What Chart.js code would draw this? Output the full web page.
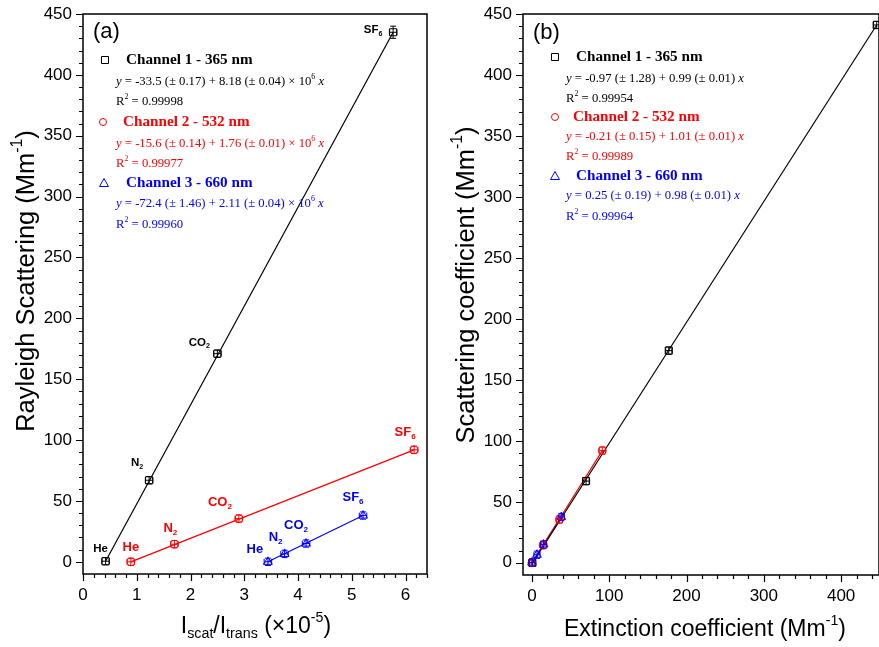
<!DOCTYPE html>
<html><head><meta charset="utf-8">
<script src="https://cdn.jsdelivr.net/npm/chart.js@4"></script>
<style>
body{margin:0;background:#fff;width:879px;height:647px;overflow:hidden;position:relative}
canvas{position:absolute;top:0}
#ca{left:0}#cb{left:440px}
</style></head><body>
<canvas id="ca" width="440" height="647"></canvas>
<canvas id="cb" width="445" height="647"></canvas>
<script>
// ---------------- Panel (a) data ----------------
const gasNames = ['He', 'N_{2}', 'CO_{2}', 'SF_{6}'];
const ch1RatioA = [0.42, 1.23, 2.50, 5.77];
const ch1ScatA  = [0.5, 67, 171, 435];
const ch2RatioA = [0.89, 1.70, 2.90, 6.16];
const ch2ScatA  = [0, 14.5, 35.5, 92];
const ch3RatioA = [3.44, 3.75, 4.15, 5.21];
const ch3ScatA  = [0, 6.5, 15, 38];
const ch1ErrYA = [3, 3, 3, 5];
const ch2ErrYA = [3, 3, 3, 3];
const ch3ErrYA = [3, 3, 3, 3];
const errXA = [0.07, 0.07, 0.07, 0.07];
const fit1XA = [0.42, 5.77], fit1YA = [0.5, 435];
const fit2XA = [0.89, 6.16], fit2YA = [0, 92];
const fit3XA = [3.44, 5.21], fit3YA = [0, 38];
const xTicksA = [0, 1, 2, 3, 4, 5, 6];
const yTicksA = [0, 50, 100, 150, 200, 250, 300, 350, 400, 450];

// ---------------- Panel (b) data ----------------
const ch1ExtB  = [0.5, 70, 177, 446];
const ch1ScatB = [0, 67, 174, 441];
const ch2ExtB  = [0, 14.5, 35.5, 91];
const ch2ScatB = [0, 14.5, 35.5, 92];
const ch3ExtB  = [0, 6.5, 15, 38];
const ch3ScatB = [0.2, 6.6, 15, 37.5];
const errXB = [4, 4, 4, 4];
const errYB = [3, 3, 3, 3];
const fit1XB = [0, 446], fit1YB = [-1, 441];
const fit2XB = [0, 91],  fit2YB = [0, 92];
const fit3XB = [0, 38],  fit3YB = [0.2, 37.5];
const xTicksB = [0, 100, 200, 300, 400];
const yTicksB = [0, 50, 100, 150, 200, 250, 300, 350, 400, 450];

const legendA = [
  ['Channel 1 - 365 nm', '*y* = -33.5 (± 0.17) + 8.18 (± 0.04) × 10^{6} *x*', 'R^{2} = 0.99998'],
  ['Channel 2 - 532 nm', '*y* = -15.6 (± 0.14) + 1.76 (± 0.01) × 10^{6} *x*', 'R^{2} = 0.99977'],
  ['Channel 3 - 660 nm', '*y* = -72.4 (± 1.46) + 2.11 (± 0.04) × 10^{6} *x*', 'R^{2} = 0.99960']
];
const legendB = [
  ['Channel 1 - 365 nm', '*y* = -0.97 (± 1.28) + 0.99 (± 0.01) *x*', 'R^{2} = 0.99954'],
  ['Channel 2 - 532 nm', '*y* = -0.21 (± 0.15) + 1.01 (± 0.01) *x*', 'R^{2} = 0.99989'],
  ['Channel 3 - 660 nm', '*y* = 0.25 (± 0.19) + 0.98 (± 0.01) *x*', 'R^{2} = 0.99964']
];

const COLORS = ['#000000', '#ff0000', '#0000ff'];
const STYLES = ['rect', 'circle', 'triangle'];
const RADII = [5, 4, 5];
const SANS = '"Liberation Sans", Arial, sans-serif';
const SERIF = '"Liberation Serif", "Times New Roman", serif';

// ---------- rich text helpers ----------
function parseRich(str){
  const segs=[]; let i=0, cur='', it=false;
  while(i<str.length){
    const c=str[i];
    if((c==='_'||c==='^') && str[i+1]==='{'){
      if(cur) segs.push({t:cur,it}); cur='';
      const j=str.indexOf('}',i);
      segs.push({t:str.slice(i+2,j), mode:c==='_'?'sub':'sup', it});
      i=j+1; continue;
    }
    if(c==='*'){ if(cur) segs.push({t:cur,it}); cur=''; it=!it; i++; continue; }
    cur+=c; i++;
  }
  if(cur) segs.push({t:cur,it});
  return segs;
}
function fontOf(s, o){
  const sz = s.mode ? o.size*0.62 : o.size;
  return (s.it?'italic ':'') + (o.weight||'normal') + ' ' + sz + 'px ' + o.family;
}
function drawRich(ctx, str, x, y, o){
  const segs = parseRich(str);
  ctx.save();
  ctx.textBaseline = 'middle';
  ctx.textAlign = 'left';
  ctx.fillStyle = o.color || '#000';
  let w=0;
  for(const s of segs){ ctx.font=fontOf(s,o); w+=ctx.measureText(s.t).width; }
  let cx = o.align==='center' ? x-w/2 : (o.align==='right' ? x-w : x);
  for(const s of segs){
    ctx.font=fontOf(s,o);
    const dy = s.mode==='sub' ? o.size*0.32 : (s.mode==='sup' ? -o.size*0.38 : 0);
    ctx.fillText(s.t, cx, y+dy);
    cx += ctx.measureText(s.t).width;
  }
  ctx.restore();
}
function drawMarker(ctx, style, x, y, color){
  ctx.save(); ctx.strokeStyle=color; ctx.lineWidth=1;
  ctx.beginPath();
  if(style==='rect') ctx.rect(x-3.5, y-3.5, 7, 7);
  else if(style==='circle') ctx.arc(x, y, 3.5, 0, Math.PI*2);
  else { ctx.moveTo(x, y-4.5); ctx.lineTo(x+4.5, y+3.5); ctx.lineTo(x-4.5, y+3.5); ctx.closePath(); }
  ctx.stroke(); ctx.restore();
}

// ---------- panel plugin ----------
function panelPlugin(cfg){
  return {
    id: 'panel'+cfg.tag,
    afterDatasetsDraw(chart){
      const ctx = chart.ctx, xs = chart.scales.x, ys = chart.scales.y, a = chart.chartArea;
      ctx.save();
      // error bars
      cfg.points.forEach((p, si) => {
        ctx.strokeStyle = COLORS[si]; ctx.lineWidth = 1;
        p.x.forEach((xv, i) => {
          const px = xs.getPixelForValue(xv), py = ys.getPixelForValue(p.y[i]);
          const y1 = ys.getPixelForValue(p.y[i] + p.ey[i]), y2 = ys.getPixelForValue(p.y[i] - p.ey[i]);
          const x1 = xs.getPixelForValue(xv - p.ex[i]), x2 = xs.getPixelForValue(xv + p.ex[i]);
          ctx.beginPath();
          ctx.moveTo(px, y1); ctx.lineTo(px, y2);
          ctx.moveTo(px-3, y1); ctx.lineTo(px+3, y1);
          ctx.moveTo(px-3, y2); ctx.lineTo(px+3, y2);
          ctx.moveTo(x1, py); ctx.lineTo(x2, py);
          ctx.moveTo(x1, py-3); ctx.lineTo(x1, py+3);
          ctx.moveTo(x2, py-3); ctx.lineTo(x2, py+3);
          ctx.stroke();
        });
      });
      // gas labels
      if (cfg.gasLabels) {
        cfg.gasLabels.forEach((gl, si) => {
          gl.off.forEach((off, i) => {
            const px = xs.getPixelForValue(cfg.points[si].x[i]) + off[0];
            const py = ys.getPixelForValue(cfg.points[si].y[i]) + off[1];
            drawRich(ctx, gasNames[i], px, py, {size: gl.size, family: SANS, weight: 'bold', color: COLORS[si], align: 'center'});
          });
        });
      }
      // frame
      ctx.strokeStyle = '#000'; ctx.lineWidth = 1.5;
      ctx.strokeRect(a.left, a.top, a.right - a.left, a.bottom - a.top);
      // ticks
      ctx.lineWidth = 1.2;
      ctx.beginPath();
      for (let v = cfg.xMinorStart; v <= xs.max + 1e-9; v += cfg.xMinor) {
        const px = Math.round(xs.getPixelForValue(v)) + 0.5;
        const isMajor = Math.abs(v / cfg.xMajor - Math.round(v / cfg.xMajor)) < 1e-6;
        ctx.moveTo(px, a.bottom); ctx.lineTo(px, a.bottom + (isMajor ? 7 : 4));
      }
      for (let v = 0; v <= ys.max + 1e-9; v += cfg.yMinor) {
        const py = Math.round(ys.getPixelForValue(v)) + 0.5;
        const isMajor = Math.abs(v / cfg.yMajor - Math.round(v / cfg.yMajor)) < 1e-6;
        ctx.moveTo(a.left, py); ctx.lineTo(a.left - (isMajor ? 7 : 4), py);
      }
      ctx.stroke();
      // panel letter
      drawRich(ctx, cfg.letter, a.left + cfg.letterPos[0], cfg.letterPos[1], {size: 22, family: SANS, color: '#000'});
      // legend
      cfg.legend.forEach((L, si) => {
        const lp = cfg.legendPos[si];
        drawMarker(ctx, STYLES[si], lp.mx, lp.y, COLORS[si]);
        drawRich(ctx, L[0], lp.tx, lp.y, {size: 15.2, family: SERIF, weight: 'bold', color: COLORS[si]});
        drawRich(ctx, L[1], lp.ex, lp.y + lp.d1, {size: 12.7, family: SERIF, color: COLORS[si]});
        drawRich(ctx, L[2], lp.ex, lp.y + lp.d2, {size: 12.7, family: SERIF, color: COLORS[si]});
      });
      // axis titles
      drawRich(ctx, cfg.xTitle, cfg.xTitlePos[0], cfg.xTitlePos[1], {size: 23, family: SANS, color: '#000', align: 'center'});
      ctx.save();
      ctx.translate(cfg.yTitlePos[0], cfg.yTitlePos[1]);
      ctx.rotate(-Math.PI / 2);
      drawRich(ctx, cfg.yTitle, 0, 0, {size: 25.5, family: SANS, color: '#000', align: 'center'});
      ctx.restore();
      ctx.restore();
    }
  };
}

function scatterDs(xArr, yArr, si){
  return {
    type: 'scatter',
    data: xArr.map((v, i) => ({x: v, y: yArr[i]})),
    pointStyle: STYLES[si], pointRadius: RADII[si], pointHoverRadius: RADII[si],
    borderColor: COLORS[si], backgroundColor: 'rgba(0,0,0,0)', borderWidth: 1, order: 1
  };
}
function lineDs(xArr, yArr, si){
  return {
    type: 'line',
    data: xArr.map((v, i) => ({x: v, y: yArr[i]})),
    borderColor: COLORS[si], borderWidth: 1.2, pointRadius: 0, fill: false, order: 2
  };
}
function axisCfg(min, max, ticks, fitSize, isX){
  return {
    type: 'linear', min, max,
    grid: {display: true, drawOnChartArea: false, drawTicks: true, tickLength: 7, color: 'rgba(0,0,0,0)'},
    border: {display: false},
    afterBuildTicks: s => { s.ticks = ticks.map(v => ({value: v})); },
    afterFit: s => {
      if (isX) { s.height = fitSize; s.paddingLeft = 0; s.paddingRight = 0; }
      else { s.width = fitSize; s.paddingTop = 0; s.paddingBottom = 0; }
    },
    ticks: {
      autoSkip: false, maxRotation: 0, padding: 4,
      color: '#000', font: {family: SANS, size: 17},
      callback: v => String(v)
    }
  };
}

Chart.defaults.animation = false;

// ---------- Chart (a) ----------
new Chart(document.getElementById('ca'), {
  type: 'scatter',
  data: {datasets: [
    lineDs(fit1XA, fit1YA, 0), lineDs(fit2XA, fit2YA, 1), lineDs(fit3XA, fit3YA, 2),
    scatterDs(ch1RatioA, ch1ScatA, 0), scatterDs(ch2RatioA, ch2ScatA, 1), scatterDs(ch3RatioA, ch3ScatA, 2)
  ]},
  options: {
    responsive: false, devicePixelRatio: 1, animation: false,
    layout: {padding: {left: 0, top: 14, right: 13, bottom: 0}},
    plugins: {legend: {display: false}, tooltip: {enabled: false}},
    scales: {
      x: axisCfg(0, 6.4, xTicksA, 73, true),
      y: axisCfg(-10, 450, yTicksA, 83, false)
    }
  },
  plugins: [panelPlugin({
    tag: 'a', letter: '(a)', letterPos: [10, 32],
    points: [
      {x: ch1RatioA, y: ch1ScatA, ey: ch1ErrYA, ex: errXA},
      {x: ch2RatioA, y: ch2ScatA, ey: ch2ErrYA, ex: errXA},
      {x: ch3RatioA, y: ch3ScatA, ey: ch3ErrYA, ex: errXA}
    ],
    gasLabels: [
      {size: 11.5, off: [[-5, -12], [-12, -17], [-18, -11], [-20, -2]]},
      {size: 13, off: [[0, -14], [-4, -16], [-19, -16], [-9, -17]]},
      {size: 13, off: [[-13, -12], [-9, -16], [-10, -18], [-10, -18]]}
    ],
    xMinorStart: 0, xMinor: 0.2, xMajor: 1, yMinor: 10, yMajor: 50,
    legend: legendA,
    legendPos: [
      {mx: 105, tx: 126, ex: 116, y: 60, d1: 22, d2: 42},
      {mx: 103, tx: 123, ex: 116, y: 122, d1: 22, d2: 42},
      {mx: 104, tx: 126, ex: 116, y: 183, d1: 21, d2: 42}
    ],
    xTitle: 'I_{scat}/I_{trans} (×10^{-5})', xTitlePos: [256, 627],
    yTitle: 'Rayleigh Scattering (Mm^{-1})', yTitlePos: [27, 281]
  })]
});

// ---------- Chart (b) ----------
new Chart(document.getElementById('cb'), {
  type: 'scatter',
  data: {datasets: [
    lineDs(fit1XB, fit1YB, 0), lineDs(fit2XB, fit2YB, 1), lineDs(fit3XB, fit3YB, 2),
    scatterDs(ch1ExtB, ch1ScatB, 0), scatterDs(ch2ExtB, ch2ScatB, 1), scatterDs(ch3ExtB, ch3ScatB, 2)
  ]},
  options: {
    responsive: false, devicePixelRatio: 1, animation: false,
    layout: {padding: {left: 0, top: 14, right: 1, bottom: 0}},
    plugins: {legend: {display: false}, tooltip: {enabled: false}},
    scales: {
      x: axisCfg(-11.6, 449, xTicksB, 72, true),
      y: axisCfg(-10, 450, yTicksB, 83, false)
    }
  },
  plugins: [panelPlugin({
    tag: 'b', letter: '(b)', letterPos: [10, 33],
    points: [
      {x: ch1ExtB, y: ch1ScatB, ey: errYB, ex: errXB},
      {x: ch2ExtB, y: ch2ScatB, ey: errYB, ex: errXB},
      {x: ch3ExtB, y: ch3ScatB, ey: errYB, ex: errXB}
    ],
    gasLabels: null,
    xMinorStart: 0, xMinor: 20, xMajor: 100, yMinor: 10, yMajor: 50,
    legend: legendB,
    legendPos: [
      {mx: 115, tx: 136, ex: 126, y: 57, d1: 22, d2: 42},
      {mx: 115, tx: 133, ex: 126, y: 117, d1: 20, d2: 40},
      {mx: 115, tx: 136, ex: 126, y: 176, d1: 20, d2: 41}
    ],
    xTitle: 'Extinction coefficient (Mm^{-1})', xTitlePos: [265, 630],
    yTitle: 'Scattering coefficient (Mm^{-1})', yTitlePos: [27, 285]
  })]
});
</script>
</body></html>
